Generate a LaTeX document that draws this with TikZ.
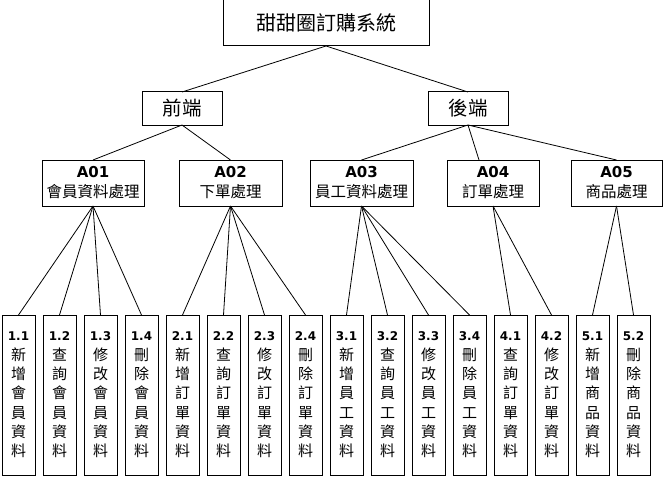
\documentclass[tikz,border=0pt]{standalone}
\usepackage{fontspec}
\setmainfont{DejaVu Sans}
\newfontfamily\cjk{Noto Sans CJK TC}
\begin{document}
\begin{tikzpicture}[x=1pt,y=-1pt,
  box/.style={draw,line width=1pt,inner sep=0pt,outer sep=0pt,align=center},
  top/.style={box,font=\cjk\fontsize{20}{22}\selectfont},
  side/.style={box,minimum width=80pt,minimum height=33pt,font=\cjk\fontsize{19.5}{22}\selectfont},
  module/.style={box,minimum height=46pt,font=\fontsize{15}{20}\selectfont},
  leaf/.style={box,minimum width=33pt,minimum height=160pt,font=\cjk\fontsize{15}{19.3}\selectfont},
  link/.style={line width=0.8pt}]
\useasboundingbox (0,0) rectangle (663,476);

% root and the two halves of the system
\node[top,minimum width=206pt,minimum height=46pt] (sys) at (326,23) {甜甜圈訂購系統};
\node[side] (front) at (182,108.5) {前端};
\node[side] (back) at (468,108.5) {後端};

% modules
\node[module,minimum width=102pt] (A01) at (93,183) {\textbf{A01}\\{\cjk\fontsize{15.5}{20}\selectfont 會員資料處理}};
\node[module,minimum width=103pt] (A02) at (230.5,183) {\textbf{A02}\\{\cjk\fontsize{15.5}{20}\selectfont 下單處理}};
\node[module,minimum width=103pt] (A03) at (361.5,183) {\textbf{A03}\\{\cjk\fontsize{15.5}{20}\selectfont 員工資料處理}};
\node[module,minimum width=92pt] (A04) at (493,183) {\textbf{A04}\\{\cjk\fontsize{15.5}{20}\selectfont 訂單處理}};
\node[module,minimum width=91pt] (A05) at (616.5,183) {\textbf{A05}\\{\cjk\fontsize{15.5}{20}\selectfont 商品處理}};

% functions, one column each
\foreach \i/\nm/\num/\txt in {
  0/p11/1.1/{新\\增\\會\\員\\資\\料},
  1/p12/1.2/{查\\詢\\會\\員\\資\\料},
  2/p13/1.3/{修\\改\\會\\員\\資\\料},
  3/p14/1.4/{刪\\除\\會\\員\\資\\料},
  4/p21/2.1/{新\\增\\訂\\單\\資\\料},
  5/p22/2.2/{查\\詢\\訂\\單\\資\\料},
  6/p23/2.3/{修\\改\\訂\\單\\資\\料},
  7/p24/2.4/{刪\\除\\訂\\單\\資\\料},
  8/p31/3.1/{新\\增\\員\\工\\資\\料},
  9/p32/3.2/{查\\詢\\員\\工\\資\\料},
  10/p33/3.3/{修\\改\\員\\工\\資\\料},
  11/p34/3.4/{刪\\除\\員\\工\\資\\料},
  12/p41/4.1/{查\\詢\\訂\\單\\資\\料},
  13/p42/4.2/{修\\改\\訂\\單\\資\\料},
  14/p51/5.1/{新\\增\\商\\品\\資\\料},
  15/p52/5.2/{刪\\除\\商\\品\\資\\料}}
  \node[leaf] (\nm) at (18.5+41*\i,395) {{\rmfamily\bfseries\fontsize{12}{19.3}\selectfont\num}\\\txt};

% tree connectors
\draw[link] (sys.south) -- (front.north);
\draw[link] (sys.south) -- (back.north);
\draw[link] (front.south) -- (A01.north);
\draw[link] (front.south) -- (A02.north);
\draw[link] (back.south) -- (A03.north);
\draw[link] (back.south) -- ([xshift=-14pt]A04.north);
\draw[link] (back.south) -- (A05.north);
\foreach \p/\c in {A01/p11,A01/p12,A01/p13,A01/p14,
                   A02/p21,A02/p22,A02/p23,A02/p24,
                   A03/p31,A03/p32,A03/p33,A03/p34,
                   A04/p41,A04/p42,A05/p51,A05/p52}
  \draw[link] (\p.south) -- (\c.north);
\end{tikzpicture}
\end{document}
